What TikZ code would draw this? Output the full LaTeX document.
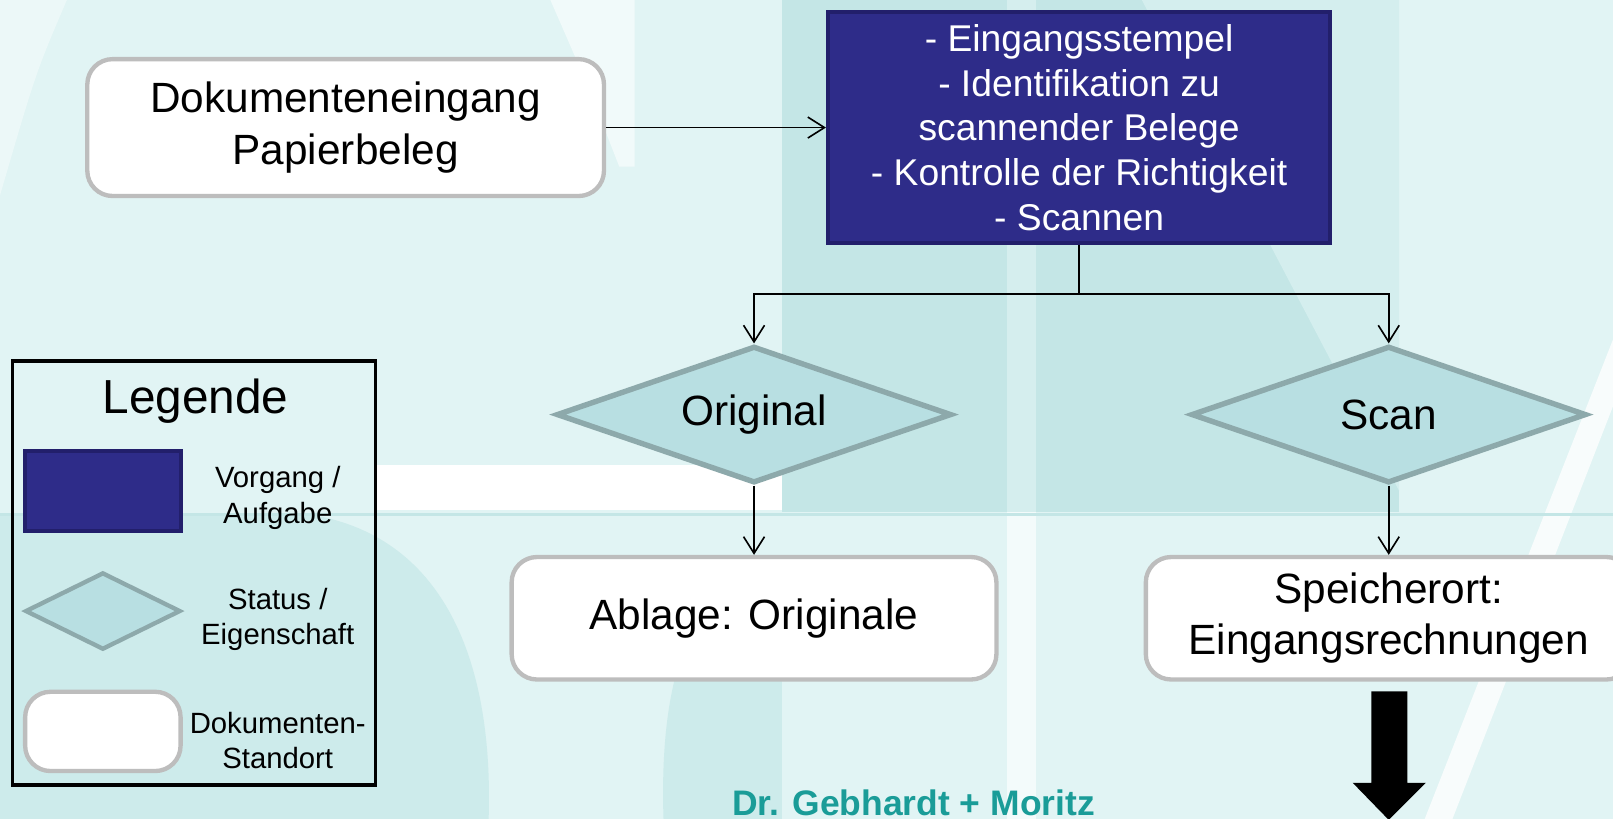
\documentclass[tikz,border=0pt]{standalone}
\usepackage{fontspec}
\setmainfont{Liberation Sans}
\usetikzlibrary{positioning, shapes.geometric, arrows.meta}

\definecolor{bgteal}{HTML}{E1F4F4}
\definecolor{bandteal}{HTML}{C4E6E6}
\definecolor{bowlteal}{HTML}{CDEBEB}
\definecolor{taskblue}{HTML}{2E2C89}
\definecolor{taskedge}{HTML}{221F6B}
\definecolor{statfill}{HTML}{B8DFE2}
\definecolor{statedge}{HTML}{8DA9AB}
\definecolor{docedge}{HTML}{BDBDBD}
\definecolor{gmteal}{HTML}{1A9C98}

\tikzset{
  docbox/.style={rectangle, rounded corners=7pt, draw=docedge, line width=1.2pt,
    fill=white, align=center, inner sep=0pt, font=\fontsize{11.7}{14.2}\selectfont},
  taskbox/.style={rectangle, draw=taskedge, line width=1.1pt, fill=taskblue,
    text=white, align=center, inner sep=0pt, font=\fontsize{10.3}{12.4}\selectfont},
  statbox/.style={diamond, aspect=2.9, draw=statedge, line width=1.5pt,
    fill=statfill, inner sep=0pt, font=\fontsize{11.7}{14.2}\selectfont},
  legtext/.style={align=center, font=\fontsize{8.1}{9.7}\selectfont},
  flow/.style={-{Straight Barb[length=4.6pt,width=5.8pt]}, line width=0.45pt},
}

\begin{document}
\begin{tikzpicture}[x=0.01cm, y=-0.01cm]
            % background watermark
            \fill[bgteal] (0,0) rectangle (1568,796);
            \useasboundingbox (0,0) rectangle (1568,796);
            \fill[white!35!bgteal] (0,0) -- (65,0) .. controls (35,70) .. (0,190) -- cycle;
            \fill[white!55!bgteal] (535,0) -- (617,0) -- (617,162) -- (602,162) .. controls (570,80) .. cycle;
            \fill[bandteal] (760,0) rectangle (1360,498);
            \fill[bandteal!45!bgteal] (1110,0) -- (1360,0) -- (1360,477) -- cycle;
            \fill[bandteal!40!bgteal] (979,0) rectangle (1007,498);
            \fill[white!60!bgteal] (979,498) rectangle (1007,796);
            \fill[bowlteal] (0,500) -- (300,500) .. controls (430,520) and (480,640) .. (475,796) -- (0,796) -- cycle;
            \fill[bowlteal] (760,540) .. controls (680,560) and (640,640) .. (645,796) -- (760,796) -- cycle;
            \fill[white!75!bgteal] (1568,330) -- (1568,395) -- (1412,796) -- (1385,796) -- cycle;
            \fill[white] (366,452) rectangle (760,496);
            \draw[bandteal, line width=1pt] (0,500) -- (1568,500);

            % flow
            \node[docbox, minimum width=5.02cm, minimum height=1.33cm] (docin) at (336,124) {Dokumenteneingang\\Papierbeleg};
            \node[taskbox, minimum width=4.88cm, minimum height=2.24cm] (task) at (1049,124) {- Eingangsstempel\\- Identifikation zu\\scannender Belege\\- Kontrolle der Richtigkeit\\- Scannen};
            \node[statbox, minimum width=3.84cm, minimum height=1.33cm] (orig) at (733,403) {Original};
            \node[statbox, minimum width=3.84cm, minimum height=1.33cm] (scan) at (1350,403) {Scan};
            \node[docbox, minimum width=4.71cm, minimum height=1.19cm] (ablage) at (733,601) {Ablage: Originale};
            \node[docbox, minimum width=4.72cm, minimum height=1.19cm] (speicher) at (1350,601) {Speicherort:\\Eingangsrechnungen};
            \coordinate (split) at (1049,286);

            \draw[flow] (docin) -- (task);
            \draw[line width=0.45pt] (task.south) -- (split);
            \draw[flow] (split) -| (orig.north);
            \draw[flow] (split) -| (scan.north);
            \draw[flow] (orig) -- (ablage);
            \draw[flow] (scan) -- (speicher);
            \fill (1333,672) -- (1368,672) -- (1368,761) -- (1386,761) -- (1350,797) -- (1315,761) -- (1333,761) -- cycle;

            % legend
            \node[draw, line width=0.9pt, minimum width=3.53cm, minimum height=4.12cm] (legend) at (188.5,557) {};
            \node[font=\fontsize{13.2}{15}\selectfont] (legtitle) at (190,390) {Legende};
            \node[taskbox, minimum width=1.51cm, minimum height=0.78cm] (legtask) at (100,477) {};
            \node[legtext] (legtasktext) at (270,484) {Vorgang /\\Aufgabe};
            \node[statbox, aspect=2, line width=1.2pt, minimum width=1.51cm, minimum height=0.75cm] (legstat) at (100,594) {};
            \node[legtext] (legstattext) at (270,602) {Status /\\Eigenschaft};
            \node[docbox, minimum width=1.51cm, minimum height=0.77cm] (legdoc) at (100,711) {};
            \node[legtext] (legdoctext) at (270,720) {Dokumenten-\\Standort};

            \node[inner sep=0pt, font=\bfseries\fontsize{9.8}{12}\selectfont, text=gmteal] (footer) at (888,780) {Dr. Gebhardt + Moritz};
        \end{tikzpicture}
\end{document}
